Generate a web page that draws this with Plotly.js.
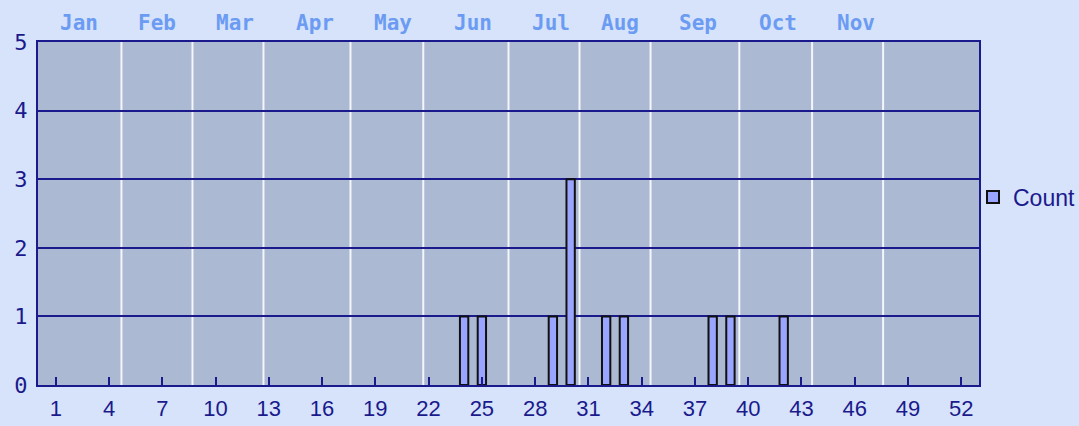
<!DOCTYPE html>
<html>
<head>
<meta charset="utf-8">
<script src="https://cdn.plot.ly/plotly-3.0.1.min.js"></script>
<style>
  html, body { margin: 0; padding: 0; background: #d6e3fb; }
  #chart { width: 1079px; height: 426px; }
</style>
</head>
<body>
<div id="chart"></div>
<script>
// Weeks with a count, and their counts
const weeks  = [24, 25, 29, 30, 32, 33, 38, 39, 42];
const counts = [1, 1, 1, 3, 1, 1, 1, 1, 1];
const seriesName = "Count";

// Top month labels and where they sit (week units)
const monthLabels = ["Jan","Feb","Mar","Apr","May","Jun","Jul","Aug","Sep","Oct","Nov"];
const monthCentres = [2.29, 6.72, 11.12, 15.62, 20.0, 24.5, 28.9, 32.8, 37.2, 41.7, 46.1];
// Month boundary lines (week units)
const monthBoundaries = [4.7, 8.7, 12.7, 17.6, 21.7, 26.5, 30.5, 34.5, 39.5, 43.6, 47.6];

// Bottom week ticks
const weekTicks = [];
for (let w = 1; w <= 52; w += 3) weekTicks.push(w);

const navy = "#1a1a8c";
const pageBg = "#d6e3fb";
const plotBg = "#abb9d2";

const traces = [
  {
    type: "bar",
    x: weeks,
    y: counts,
    name: seriesName,
    width: 0.47,
    marker: { color: "#99a5ff", line: { color: "#111111", width: 2 } },
    hoverinfo: "x+y"
  }
];

const shapes = monthBoundaries.map(b => ({
  type: "line",
  xref: "x",
  yref: "paper",
  x0: b, x1: b, y0: 0, y1: 1,
  line: { color: "#f4f6fb", width: 2 },
  layer: "below"
}));

const annotations = monthLabels.map((m, i) => ({
  text: m,
  x: monthCentres[i],
  xref: "x",
  y: 1,
  yref: "paper",
  yanchor: "bottom",
  yshift: 5,
  showarrow: false,
  font: { family: "DejaVu Sans Mono, monospace", size: 21, color: "#6b9bf2", weight: "bold" }
}));

const layout = {
  width: 1079,
  height: 426,
  margin: { l: 38, r: 100, t: 42, b: 41, autoexpand: false },
  paper_bgcolor: pageBg,
  plot_bgcolor: plotBg,
  showlegend: true,
  bargap: 0,
  xaxis: {
    range: [0, 53],
    tickvals: weekTicks,
    ticktext: weekTicks.map(String),
    ticks: "inside",
    ticklen: 8,
    tickwidth: 2,
    tickcolor: navy,
    showgrid: false,
    zeroline: false,
    showline: true,
    linecolor: navy,
    linewidth: 2,
    mirror: true,
    ticklabelstandoff: 3,
    tickfont: { family: "Liberation Sans, Arial, sans-serif", size: 22, color: navy },
    fixedrange: true
  },
  yaxis: {
    range: [0, 5],
    dtick: 1,
    tick0: 0,
    ticks: "",
    showgrid: true,
    gridcolor: navy,
    gridwidth: 2,
    zeroline: false,
    showline: true,
    linecolor: navy,
    linewidth: 2,
    mirror: true,
    ticklabelstandoff: 4,
    tickfont: { family: "DejaVu Sans Mono, monospace", size: 22, color: navy },
    fixedrange: true
  },
  legend: {
    x: 0.9936,
    xanchor: "left",
    y: 0.548,
    yanchor: "middle",
    bgcolor: "rgba(0,0,0,0)",
    borderwidth: 0,
    font: { family: "Liberation Sans, Arial, sans-serif", size: 23, color: navy }
  },
  shapes: shapes,
  annotations: annotations
};

Plotly.newPlot("chart", traces, layout, { displayModeBar: false, staticPlot: true });
</script>
</body>
</html>
